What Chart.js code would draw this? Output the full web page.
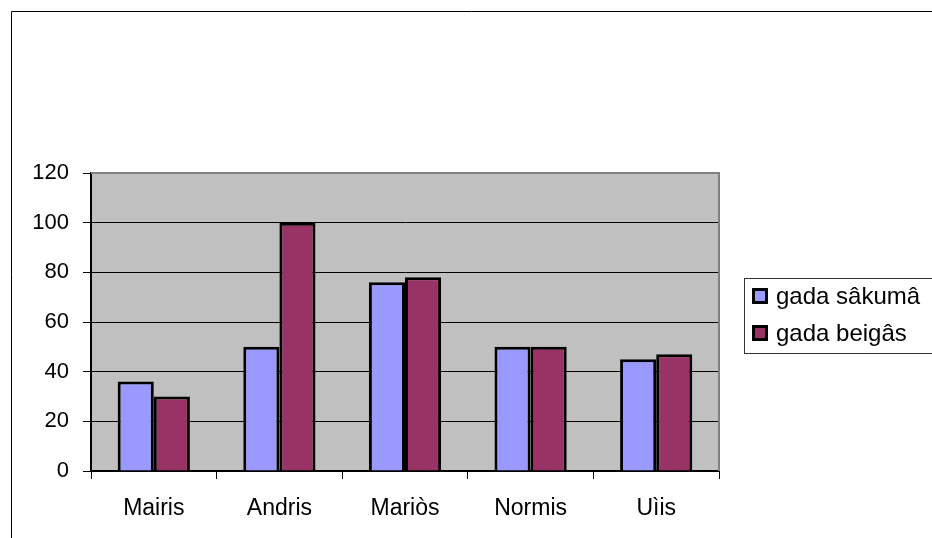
<!DOCTYPE html>
<html>
<head>
<meta charset="utf-8">
<script src="https://cdn.jsdelivr.net/npm/chart.js@4"></script>
<style>
  html, body { margin: 0; padding: 0; background: #fff; }
  #wrap { width: 932px; height: 538px; position: relative; }
</style>
</head>
<body>
<div id="wrap"><canvas id="chart" width="932" height="538"></canvas></div>
<script>
// --- Chart data ---
const categories = ['Mairis', 'Andris', 'Mariòs', 'Normis', 'Uìis'];
const startValues = [36, 50, 76, 50, 45];   // gada sâkumâ
const endValues = [30, 100, 78, 50, 47];    // gada beigâs
const seriesNames = ['gada sâkumâ', 'gada beigâs'];
const yTicks = [0, 20, 40, 60, 80, 100, 120];

const FONT = '"Liberation Sans", Arial, sans-serif';

// grey plot background, outer frame and the boxed legend on the right
const excelLook = {
    id: 'excelLook',
    beforeDraw(chart) {
        const { ctx, chartArea: a } = chart;
        ctx.save();
        ctx.fillStyle = '#C0C0C0';
        ctx.fillRect(a.left, a.top, a.right - a.left, a.bottom - a.top);
        ctx.strokeStyle = '#000';
        ctx.lineWidth = 1;
        ctx.beginPath();
        ctx.moveTo(11.5, 538);
        ctx.lineTo(11.5, 11.5);
        ctx.lineTo(932, 11.5);
        ctx.stroke();
        ctx.restore();
    },
    afterDatasetsDraw(chart) {
        const { ctx, chartArea: a } = chart;
        ctx.save();
        // plot area frame (grey top/right)
        ctx.strokeStyle = '#808080';
        ctx.lineWidth = 2;
        ctx.beginPath();
        ctx.moveTo(a.left, a.top);
        ctx.lineTo(a.right, a.top);
        ctx.lineTo(a.right, a.bottom);
        ctx.stroke();
        // legend
        ctx.fillStyle = '#fff';
        ctx.fillRect(744, 278, 200, 75);
        ctx.strokeStyle = '#333';
        ctx.lineWidth = 1;
        ctx.strokeRect(744.5, 278.5, 200, 75);
        ctx.font = '24px ' + FONT;
        ctx.textBaseline = 'middle';
        chart.data.datasets.forEach((ds, i) => {
            const y = 288 + i * 37;
            ctx.fillStyle = '#000';
            ctx.fillRect(752, y, 16, 16);
            ctx.fillStyle = ds.backgroundColor;
            ctx.fillRect(755, y + 3, 10, 10);
            ctx.fillStyle = '#000';
            ctx.fillText(ds.label, 776, y + 9);
        });
        ctx.restore();
    }
};

new Chart(document.getElementById('chart'), {
    type: 'bar',
    data: {
        labels: categories,
        datasets: [{
            label: seriesNames[0],
            data: startValues,
            backgroundColor: '#9999FF',
            borderColor: '#000',
            borderWidth: 3,
        }, {
            label: seriesNames[1],
            data: endValues,
            backgroundColor: '#993366',
            borderColor: '#000',
            borderWidth: 3,
        }]
    },
    options: {
        responsive: false,
        animation: false,
        devicePixelRatio: 1,
        layout: { padding: { top: 173, right: 213, left: 0, bottom: 0 } },
        datasets: { bar: { barPercentage: 1, categoryPercentage: 0.575 } },
        plugins: { legend: { display: false }, tooltip: { enabled: false } },
        scales: {
            x: {
                grid: { offset: true, drawOnChartArea: false, color: '#000', tickLength: 8 },
                border: { color: '#000', width: 2 },
                ticks: { color: '#000', font: { family: FONT, size: 23 }, padding: 16 },
                afterFit: s => { s.height = 67; }
            },
            y: {
                min: 0, max: 120,
                afterBuildTicks: s => { s.ticks = yTicks.map(v => ({ value: v })); },
                grid: { color: '#000', lineWidth: 1, tickLength: 8 },
                border: { color: '#000', width: 2 },
                ticks: { color: '#000', font: { family: FONT, size: 22 }, padding: 14 },
                afterFit: s => { s.width = 91; }
            }
        }
    },
    plugins: [excelLook]
});
</script>
</body>
</html>
